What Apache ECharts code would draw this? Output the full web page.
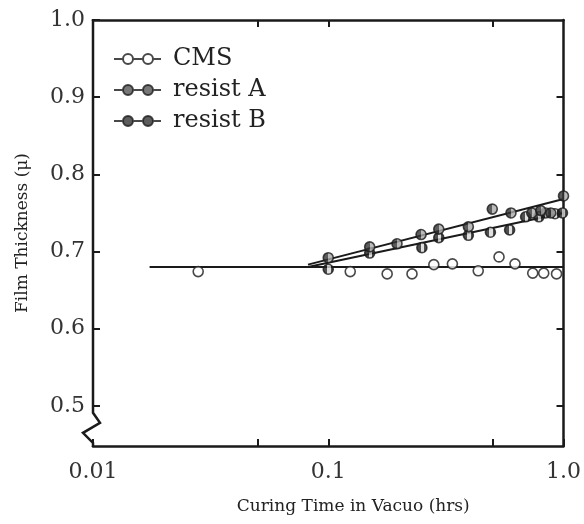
<!DOCTYPE html>
<html>
<head>
<meta charset="utf-8">
<script src="https://cdn.jsdelivr.net/npm/echarts@6/dist/echarts.min.js"></script>
<style>html,body{margin:0;padding:0;background:#fff}#c{width:584px;height:524px}</style>
</head>
<body>
<div id="c"></div>
<script>
// ---- data ----
const cmsX = [0.028, 0.124, 0.178, 0.227, 0.281, 0.337, 0.434, 0.532, 0.622, 0.740, 0.824, 0.934];
const cmsY = [0.674, 0.674, 0.671, 0.671, 0.683, 0.684, 0.675, 0.693, 0.684, 0.672, 0.672, 0.671];
const resistAX = [0.100, 0.150, 0.250, 0.295, 0.394, 0.489, 0.590, 0.690, 0.786, 0.840, 0.920, 0.990];
const resistAY = [0.677, 0.698, 0.705, 0.718, 0.721, 0.725, 0.728, 0.745, 0.745, 0.750, 0.749, 0.750];
const resistBX = [0.100, 0.150, 0.196, 0.248, 0.295, 0.394, 0.498, 0.598, 0.733, 0.800, 0.882, 1.000];
const resistBY = [0.692, 0.706, 0.710, 0.722, 0.729, 0.732, 0.755, 0.750, 0.750, 0.753, 0.750, 0.772];
// fitted lines (end points)
const cmsFitX = [0.0174, 1.0];
const cmsFitY = [0.680, 0.680];
const fitAX = [0.082, 1.0];
const fitAY = [0.680, 0.750];
const fitBX = [0.082, 1.0];
const fitBY = [0.683, 0.768];
// ticks
const xTickValues = [0.01, 0.05, 0.1, 0.5, 1.0];
const xLabelValues = [0.01, 0.1, 1.0];
const xLabelTexts = ['0.01', '0.1', '1.0'];
const yTickValues = [0.5, 0.6, 0.7, 0.8, 0.9, 1.0];
const yLabelTexts = ['0.5', '0.6', '0.7', '0.8', '0.9', '1.0'];
const yMin = 0.448, yMax = 1.0;
const xMin = 0.01, xMax = 1.0;

const zip = (xs, ys) => xs.map((x, i) => [x, ys[i]]);
const nearestLabel = (vals, texts, v) => {
  let bi = 0, bd = Infinity;
  vals.forEach((t, i) => { const d = Math.abs(Math.log10(t) - Math.log10(v)); if (d < bd) { bd = d; bi = i; } });
  return texts[bi];
};

const serif = 'DejaVu Serif';
const ink = '#1a1a1a';
const fillA = {type: 'linear', x: 0, y: 0, x2: 1, y2: 0, colorStops: [
  {offset: 0, color: '#222'}, {offset: 0.42, color: '#222'}, {offset: 0.42, color: '#d8d8d8'},
  {offset: 0.7, color: '#d8d8d8'}, {offset: 0.7, color: '#222'}, {offset: 1, color: '#222'}]};
const fillB = {type: 'linear', x: 0, y: 0, x2: 1, y2: 0, colorStops: [
  {offset: 0, color: '#333'}, {offset: 0.5, color: '#333'}, {offset: 0.5, color: '#aaa'},
  {offset: 1, color: '#aaa'}]};

const legendIcon = 'path://M0,6L9,6 M19,6L29,6 M39,6L47,6 ' +
  'M14,1A5,5 0 1 1 14,11A5,5 0 1 1 14,1Z M34,1A5,5 0 1 1 34,11A5,5 0 1 1 34,1Z';

const chart = echarts.init(document.getElementById('c'), null, {renderer: 'canvas'});
const lineCommon = {type: 'line', symbol: 'none', silent: true, z: 2,
  lineStyle: {color: ink, width: 2}, legendHoverLink: false};

chart.setOption({
  animation: false,
  backgroundColor: '#fff',
  grid: {left: 93, right: 16, top: 20, bottom: 78},
  legend: {
    orient: 'vertical', left: 113, top: 47, itemGap: 7, padding: 0,
    itemWidth: 47, itemHeight: 10, selectedMode: false,
    textStyle: {fontFamily: serif, fontSize: 24, color: '#222', padding: [0, 0, 0, 7]},
    data: [
      {name: 'CMS', icon: legendIcon, itemStyle: {color: '#fff', borderColor: ink, borderWidth: 2}},
      {name: 'resist A', icon: legendIcon, itemStyle: {color: '#555', borderColor: ink, borderWidth: 2}},
      {name: 'resist B', icon: legendIcon, itemStyle: {color: '#333', borderColor: ink, borderWidth: 2}}
    ]
  },
  xAxis: [{
    type: 'log', logBase: 10, min: xMin, max: xMax, position: 'bottom',
    name: 'Curing Time in Vacuo (hrs)', nameLocation: 'middle', nameGap: 52,
    nameTextStyle: {fontFamily: serif, fontSize: 17, color: '#222', padding: [0, 0, 0, 50]},
    axisLine: {show: true, lineStyle: {color: ink, width: 2.5}},
    axisTick: {show: true, inside: true, length: 7, lineStyle: {color: ink, width: 2}, customValues: xTickValues},
    axisLabel: {show: true, margin: 15, fontFamily: serif, fontSize: 22, color: '#333',
      customValues: xLabelValues, formatter: v => nearestLabel(xLabelValues, xLabelTexts, v)},
    splitLine: {show: false}, minorTick: {show: false}
  }, {
    type: 'log', logBase: 10, min: xMin, max: xMax, position: 'top',
    axisLine: {show: true, lineStyle: {color: ink, width: 2.5}},
    axisTick: {show: true, inside: true, length: 7, lineStyle: {color: ink, width: 2}, customValues: [0.05, 0.1, 0.5]},
    axisLabel: {show: false}, splitLine: {show: false}
  }],
  yAxis: [{
    type: 'value', min: yMin, max: yMax, position: 'left',
    name: 'Film Thickness (μ)', nameLocation: 'middle', nameGap: 62, nameRotate: 90,
    nameTextStyle: {fontFamily: serif, fontSize: 17, color: '#222'},
    axisLine: {show: false},
    axisTick: {show: true, inside: true, length: 7, lineStyle: {color: ink, width: 2}, customValues: yTickValues},
    axisLabel: {show: true, margin: 8, fontFamily: serif, fontSize: 22, color: '#333',
      customValues: yTickValues, formatter: v => yLabelTexts[yTickValues.findIndex(t => Math.abs(t - v) < 1e-6)] || ''},
    splitLine: {show: false}
  }, {
    type: 'value', min: yMin, max: yMax, position: 'right',
    axisLine: {show: true, lineStyle: {color: ink, width: 2.5}},
    axisTick: {show: true, inside: true, length: 7, lineStyle: {color: ink, width: 2}, customValues: yTickValues.slice(0, 5)},
    axisLabel: {show: false}, splitLine: {show: false}
  }],
  series: [
    Object.assign({name: 'cmsFit', data: zip(cmsFitX, cmsFitY)}, lineCommon),
    Object.assign({name: 'fitA', data: zip(fitAX, fitAY)}, lineCommon),
    Object.assign({name: 'fitB', data: zip(fitBX, fitBY)}, lineCommon),
    {name: 'CMS', type: 'scatter', z: 3, symbol: 'circle', symbolSize: 10, data: zip(cmsX, cmsY),
      itemStyle: {color: '#fff', borderColor: ink, borderWidth: 1.6}},
    {name: 'resist A', type: 'scatter', z: 3, symbol: 'circle', symbolSize: 10, data: zip(resistAX, resistAY),
      itemStyle: {color: fillA, borderColor: ink, borderWidth: 1.6}},
    {name: 'resist B', type: 'scatter', z: 4, symbol: 'circle', symbolSize: 10, data: zip(resistBX, resistBY),
      itemStyle: {color: fillB, borderColor: ink, borderWidth: 1.6}}
  ]
});

// left axis line with break (zig-zag) near the bottom
function toPx(x, y) { return chart.convertToPixel({xAxisIndex: 0, yAxisIndex: 0}, [x, y]); }
const pTop = toPx(xMin, yMax), pBot = toPx(xMin, yMin);
const xl = pTop[0];
const breakPts = [
  [xl, pTop[1] - 1],
  [xl, toPx(xMin, 0.491)[1]],
  [xl + 7, toPx(xMin, 0.478)[1]],
  [xl - 10, toPx(xMin, 0.465)[1]],
  [xl, toPx(xMin, 0.452)[1]],
  [xl, pBot[1] + 1]
];
chart.setOption({graphic: [{type: 'polyline', shape: {points: breakPts}, z: 10,
  style: {stroke: ink, lineWidth: 2.5, fill: null, lineJoin: 'miter'}}]});
</script>
</body>
</html>
